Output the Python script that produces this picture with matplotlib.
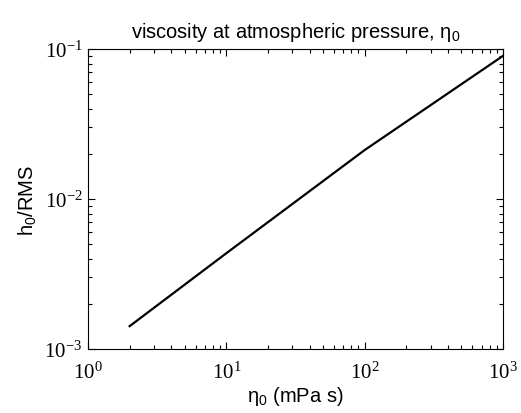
import matplotlib
matplotlib.use("Agg")
import matplotlib.pyplot as plt
from matplotlib.ticker import LogLocator, FuncFormatter
import math

eta0 = [2, 10, 100, 1000]
h0_rms = [0.00142, 0.00435, 0.0212, 0.0900]

fig = plt.figure(figsize=(5.21, 4.14), dpi=100)
ax = fig.add_axes([88/521, 64/414, 415/521, 300/414])
ax.plot(eta0, h0_rms, color='black', lw=1.6)
ax.set_xscale('log')
ax.set_yscale('log')
ax.set_xlim(1, 1000)
ax.set_ylim(1e-3, 1e-1)

ax.tick_params(which='both', direction='in', top=True, right=True)
ax.tick_params(which='major', length=5, width=0.8)
ax.tick_params(which='minor', length=3, width=0.8)
ax.xaxis.set_minor_locator(LogLocator(base=10, subs=range(2, 10)))
ax.yaxis.set_minor_locator(LogLocator(base=10, subs=range(2, 10)))

def fmt(v, pos):
    e = int(round(math.log10(v)))
    return r'$\mathregular{10^{%d}}$' % e

ax.xaxis.set_major_formatter(FuncFormatter(fmt))
ax.yaxis.set_major_formatter(FuncFormatter(fmt))
for lab in ax.get_xticklabels() + ax.get_yticklabels():
    lab.set_fontfamily('Liberation Serif')
    lab.set_fontsize(15)
ax.tick_params(axis='x', pad=9)
ax.tick_params(axis='y', pad=4)
for s in ax.spines.values():
    s.set_linewidth(0.8)

ax.set_title(r'viscosity at atmospheric pressure, $\mathregular{\eta_0}$',
             fontfamily='Liberation Sans', fontsize=14.5, pad=9)
ax.set_xlabel(r'$\mathregular{\eta_0}$ (mPa s)', fontfamily='Liberation Sans', fontsize=14.5, labelpad=1)
ax.set_ylabel(r'$\mathregular{h_0}$/RMS', fontfamily='Liberation Sans', fontsize=14.5, labelpad=4)

fig.savefig('out.png', dpi=100)
